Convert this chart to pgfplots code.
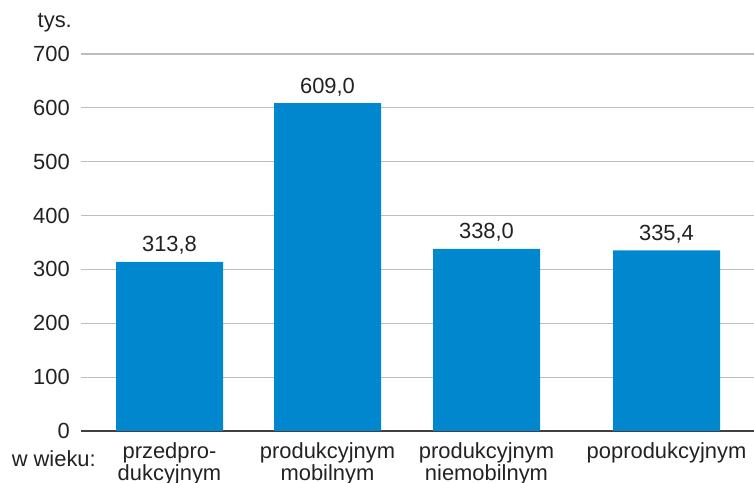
\documentclass[border=0pt]{standalone}
\usepackage{pgfplots}
\pgfplotsset{compat=1.18}
\usepackage{fontspec}
\setmainfont{Liberation Sans}
\definecolor{barblue}{HTML}{0087CE}
\definecolor{gridgray}{HTML}{BDBDBD}
\definecolor{axisgray}{HTML}{404040}
\definecolor{txt}{HTML}{222222}
\begin{document}
\begin{tikzpicture}[x=1bp,y=1bp]
\begin{axis}[
  at={(81bp,52bp)}, anchor=south west,
  scale only axis, width=673bp, height=377bp,
  xmin=81, xmax=754, ymin=0, ymax=700,
  axis line style={draw=none},
  major tick length=0pt,
  ytick={100,200,...,700},
  extra y ticks={0},
  extra y tick style={grid style={axisgray, line width=1.2bp}},
  ymajorgrids,
  grid style={gridgray, line width=1.2bp},
  xtick={169.5,327.5,486.5,666.5},
  xticklabels={{przedpro-\\dukcyjnym},{produkcyjnym\\mobilnym},{produkcyjnym\\niemobilnym},{poprodukcyjnym}},
  xticklabel style={align=center, anchor=north, inner sep=0pt, yshift=-11bp, text=txt,
    font=\fontsize{22}{23}\selectfont},
  yticklabel style={anchor=east, inner sep=0pt, xshift=-11bp, text=txt, font=\fontsize{22}{24}\selectfont},
  /pgf/number format/assume math mode=true,
  clip=false,
]
\addplot[ybar, fill=barblue, draw=none, bar width=107, bar shift=0pt,
  point meta=y,
  nodes near coords={\pgfmathprintnumber[fixed,fixed zerofill,precision=1,use comma,assume math mode=true]{\pgfplotspointmeta}},
  every node near coord/.append style={anchor=base, inner sep=0pt, yshift=10bp, text=txt, font=\fontsize{22}{24}\selectfont}]
  coordinates {(169.5,313.8) (327.5,609.0) (486.5,338.0) (666.5,335.4)};
\end{axis}
\node[anchor=base east, inner sep=0pt, font=\fontsize{22}{24}\selectfont, text=txt] at (72bp,455bp) {tys.};
\node[anchor=base east, inner sep=0pt, font=\fontsize{22}{24}\selectfont, text=txt] at (96bp,17bp) {w wieku:};
\pgfresetboundingbox
\path[use as bounding box] (0,0) rectangle (754bp,483bp);
\end{tikzpicture}
\end{document}
